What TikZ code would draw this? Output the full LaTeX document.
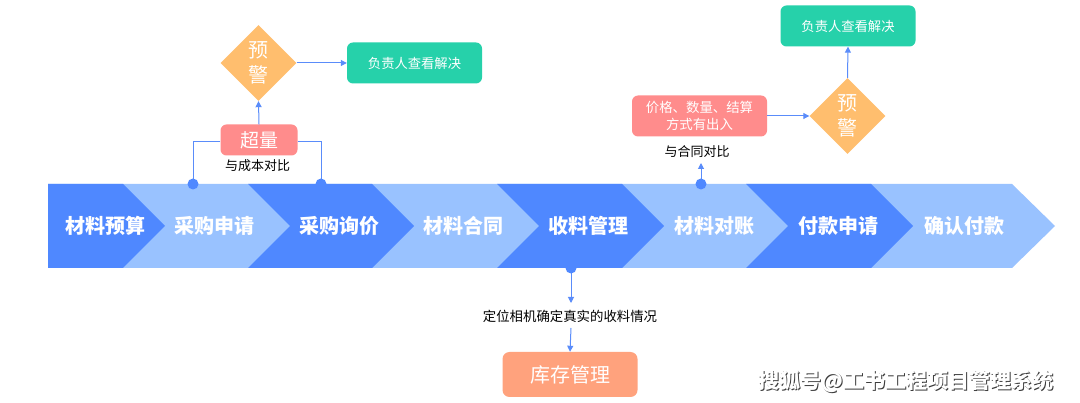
\documentclass[tikz,border=0pt]{standalone}
\usepackage{fontspec}
\newfontfamily\cjk{Noto Sans CJK SC}
\usetikzlibrary{shapes.geometric,arrows.meta}
\definecolor{dkblue}{RGB}{79,136,255}
\definecolor{ltblue}{RGB}{153,194,255}
\definecolor{lnblue}{RGB}{90,140,250}
\definecolor{warnorange}{RGB}{255,190,110}
\definecolor{okgreen}{RGB}{38,209,170}
\definecolor{alertpink}{RGB}{255,140,140}
\definecolor{stockorange}{RGB}{255,162,125}
\definecolor{shadowgray}{RGB}{60,60,60}
\begin{document}
\begin{tikzpicture}[x=1pt,y=-1pt,
 bandlabel/.style={font=\cjk\bfseries\fontsize{20}{24}\selectfont, text=white, inner sep=0},
 greenbox/.style={fill=okgreen, rounded corners=6pt, minimum width=135pt, minimum height=41pt, text=white, font=\cjk\fontsize{13.3}{16}\selectfont, inner sep=0},
 warn/.style={diamond, fill=warnorange, minimum width=76pt, minimum height=76pt, inner sep=0, text=white, align=center, font=\cjk\fontsize{20}{25}\selectfont},
 pinkbox/.style={fill=alertpink, rounded corners=6pt, inner sep=0, text=white, align=center},
 stockbox/.style={fill=stockorange, rounded corners=7pt, minimum width=135pt, minimum height=45pt, inner sep=0, text=white, font=\cjk\fontsize{20}{24}\selectfont},
 link/.style={draw=lnblue, line width=1pt, -{Triangle[length=6pt,width=6pt]}},
 plain/.style={draw=lnblue, line width=1pt},
 note/.style={font=\cjk\fontsize{13}{16}\selectfont, text=black, inner sep=0},
 dotmark/.style={fill=dkblue}
]
\useasboundingbox (0,0) rectangle (1080,403);
\fill[white] (0,0) rectangle (1080,403);

% band
\fill[ltblue] (48,184) -- (1012,184) -- (1055,226) -- (1012,268) -- (48,268) -- cycle;
\fill[dkblue] (48,184) -- (123,184) -- (165,226) -- (123,268) -- (48,268) -- cycle;
\foreach \a/\b in {248/372, 497/622, 746/871}{
  \fill[dkblue] (\a,184) -- (\b,184) -- (\b+42,226) -- (\b,268) -- (\a,268) -- (\a+42,226) -- cycle;
}
\node[bandlabel] (s1) at (105,226) {材料预算};
\node[bandlabel] (s2) at (214,226) {采购申请};
\node[bandlabel] (s3) at (339,226) {采购询价};
\node[bandlabel] (s4) at (463,226) {材料合同};
\node[bandlabel] (s5) at (588,226) {收料管理};
\node[bandlabel] (s6) at (714,226) {材料对账};
\node[bandlabel] (s7) at (838,226) {付款申请};
\node[bandlabel] (s8) at (964,226) {确认付款};

% left group
\node[warn] (warnA) at (258.5,63) {预\\警};
\node[greenbox] (greenA) at (414.5,63) {负责人查看解决};
\node[pinkbox, minimum width=77pt, minimum height=31pt, font=\cjk\fontsize{19}{22}\selectfont] (over) at (259,140) {超量};
\node[note] (cmpA) at (257.5,165.5) {与成本对比};
\coordinate (dotA) at (193,184);
\coordinate (dotB) at (321,184);
\draw[link] (warnA.east) -- (greenA.west);
\draw[link] (over.north) -- (warnA.south);
\draw[plain] ([yshift=-2pt]over.west) -| (dotA);
\draw[plain] ([yshift=-2pt]over.east) -| (dotB);
\fill[dotmark] (dotA) circle (5.5pt);
\fill[dotmark] (dotB) circle (5.5pt);

% right group
\node[pinkbox, minimum width=135pt, minimum height=41pt, font=\cjk\fontsize{13.4}{17}\selectfont] (diff) at (699.5,116) {价格、数量、结算\\方式有出入};
\node[warn] (warnB) at (847.5,116) {预\\警};
\node[greenbox] (greenB) at (848,26) {负责人查看解决};
\node[note] (cmpB) at (697,152) {与合同对比};
\coordinate (dotC) at (701,184);
\coordinate (cmpBend) at (701,163);
\draw[link] (dotC) -- (cmpBend);
\draw[link] (diff.east) -- (warnB.west);
\draw[link] (warnB.north) -- (greenB.south);
\fill[dotmark] (dotC) circle (5.5pt);

% bottom group
\coordinate (dotD) at (571,268);
\coordinate (locEnd) at (571,303);
\coordinate (locStart) at (571,328);
\node[note, font=\cjk\fontsize{13.4}{16}\selectfont] (loc) at (570,316) {定位相机确定真实的收料情况};
\node[stockbox] (stock) at (570,374.5) {库存管理};
\draw[link] (dotD) -- (locEnd);
\draw[link] (locStart) -- (stock.north);
\fill[dotmark] (dotD) circle (5.5pt);

% watermark
\node[font=\cjk\bfseries\fontsize{21}{24}\selectfont, text=shadowgray, inner sep=0] (wmshadow) at (907,382) {搜狐号@工书工程项目管理系统};
\node[font=\cjk\bfseries\fontsize{21}{24}\selectfont, text=white, inner sep=0] (wm) at (906,381) {搜狐号@工书工程项目管理系统};
\end{tikzpicture}
\end{document}
